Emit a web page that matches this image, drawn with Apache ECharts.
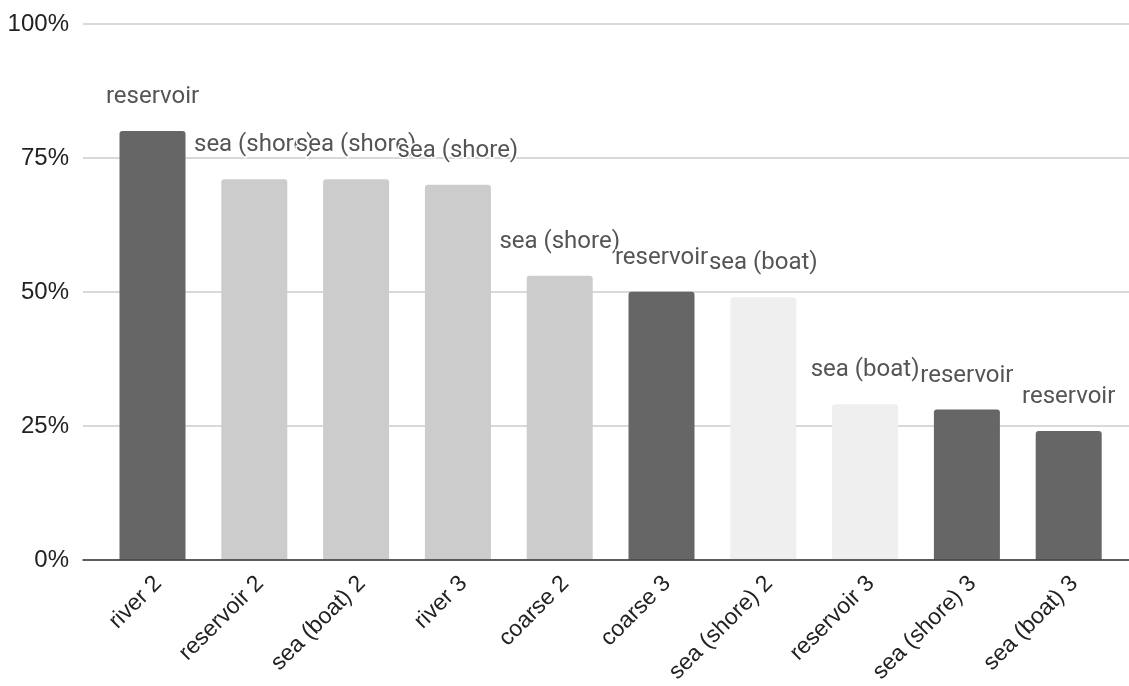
<!DOCTYPE html>
<html>
<head>
<meta charset="utf-8">
<script src="https://cdn.jsdelivr.net/npm/echarts@6/dist/echarts.min.js"></script>
<style>
  html, body { margin: 0; padding: 0; background: #ffffff; }
  #chart { width: 1129px; height: 686px; }
</style>
</head>
<body>
<div id="chart"></div>
<script>
// Sample categories, their share (percent) and the group shown above each bar
const categories = ['river 2', 'reservoir 2', 'sea (boat) 2', 'river 3', 'coarse 2',
                    'coarse 3', 'sea (shore) 2', 'reservoir 3', 'sea (shore) 3', 'sea (boat) 3'];
const values = [80, 71, 71, 70, 53, 50, 49, 29, 28, 24];
const groups = ['reservoir', 'sea (shore)', 'sea (shore)', 'sea (shore)', 'sea (shore)',
                'reservoir', 'sea (boat)', 'sea (boat)', 'reservoir', 'reservoir'];
const yTicks = [0, 25, 50, 75, 100];

const groupColors = {
  'reservoir': '#666666',
  'sea (shore)': '#cccccc',
  'sea (boat)': '#efefef'
};

const chart = echarts.init(document.getElementById('chart'), null, { renderer: 'canvas' });

const barData = values.map((v, i) => ({
  value: v,
  itemStyle: { color: groupColors[groups[i]] },
  label: { formatter: groups[i] }
}));

chart.setOption({
  animation: false,
  backgroundColor: '#ffffff',
  grid: [
    // frame grid: gridlines, percent labels and baseline
    { left: 83, right: 0, top: 24, bottom: 126 },
    // bar grid
    { left: 101.6, right: 9.4, top: 24, bottom: 126 }
  ],
  xAxis: [
    {
      gridIndex: 0, type: 'value', min: 0, max: 1, z: 10,
      axisLine: { show: true, onZero: false, lineStyle: { color: '#333333', width: 1.5 } },
      axisTick: { show: false }, axisLabel: { show: false }, splitLine: { show: false }
    },
    {
      gridIndex: 1, type: 'category', data: categories,
      axisLine: { show: false }, axisTick: { show: false },
      axisLabel: {
        rotate: 45, margin: 26, interval: 0, padding: [0, -8, 0, 0],
        fontFamily: 'Liberation Sans', fontSize: 23, color: '#222222'
      }
    }
  ],
  yAxis: [
    {
      gridIndex: 0, type: 'value', min: 0, max: 100, interval: 25,
      axisLine: { show: false }, axisTick: { show: false },
      axisLabel: {
        margin: 14, fontFamily: 'Liberation Sans', fontSize: 24, color: '#222222',
        formatter: v => (yTicks.includes(v) ? v + '%' : '')
      },
      splitLine: { lineStyle: { color: '#cccccc', width: 1.5 } }
    },
    {
      gridIndex: 1, type: 'value', min: 0, max: 100, interval: 25,
      axisLine: { show: false }, axisTick: { show: false },
      axisLabel: { show: false }, splitLine: { show: false }
    }
  ],
  series: [
    {
      type: 'bar',
      xAxisIndex: 1, yAxisIndex: 1,
      barWidth: 66,
      data: barData,
      itemStyle: { borderRadius: [3, 3, 0, 0] },
      label: {
        show: true, position: 'top', distance: 22,
        fontFamily: 'Roboto', fontSize: 24, color: '#555555',
        textBorderColor: '#ffffff', textBorderWidth: 3
      },
      labelLayout: { hideOverlap: false }
    }
  ]
});
</script>
</body>
</html>
